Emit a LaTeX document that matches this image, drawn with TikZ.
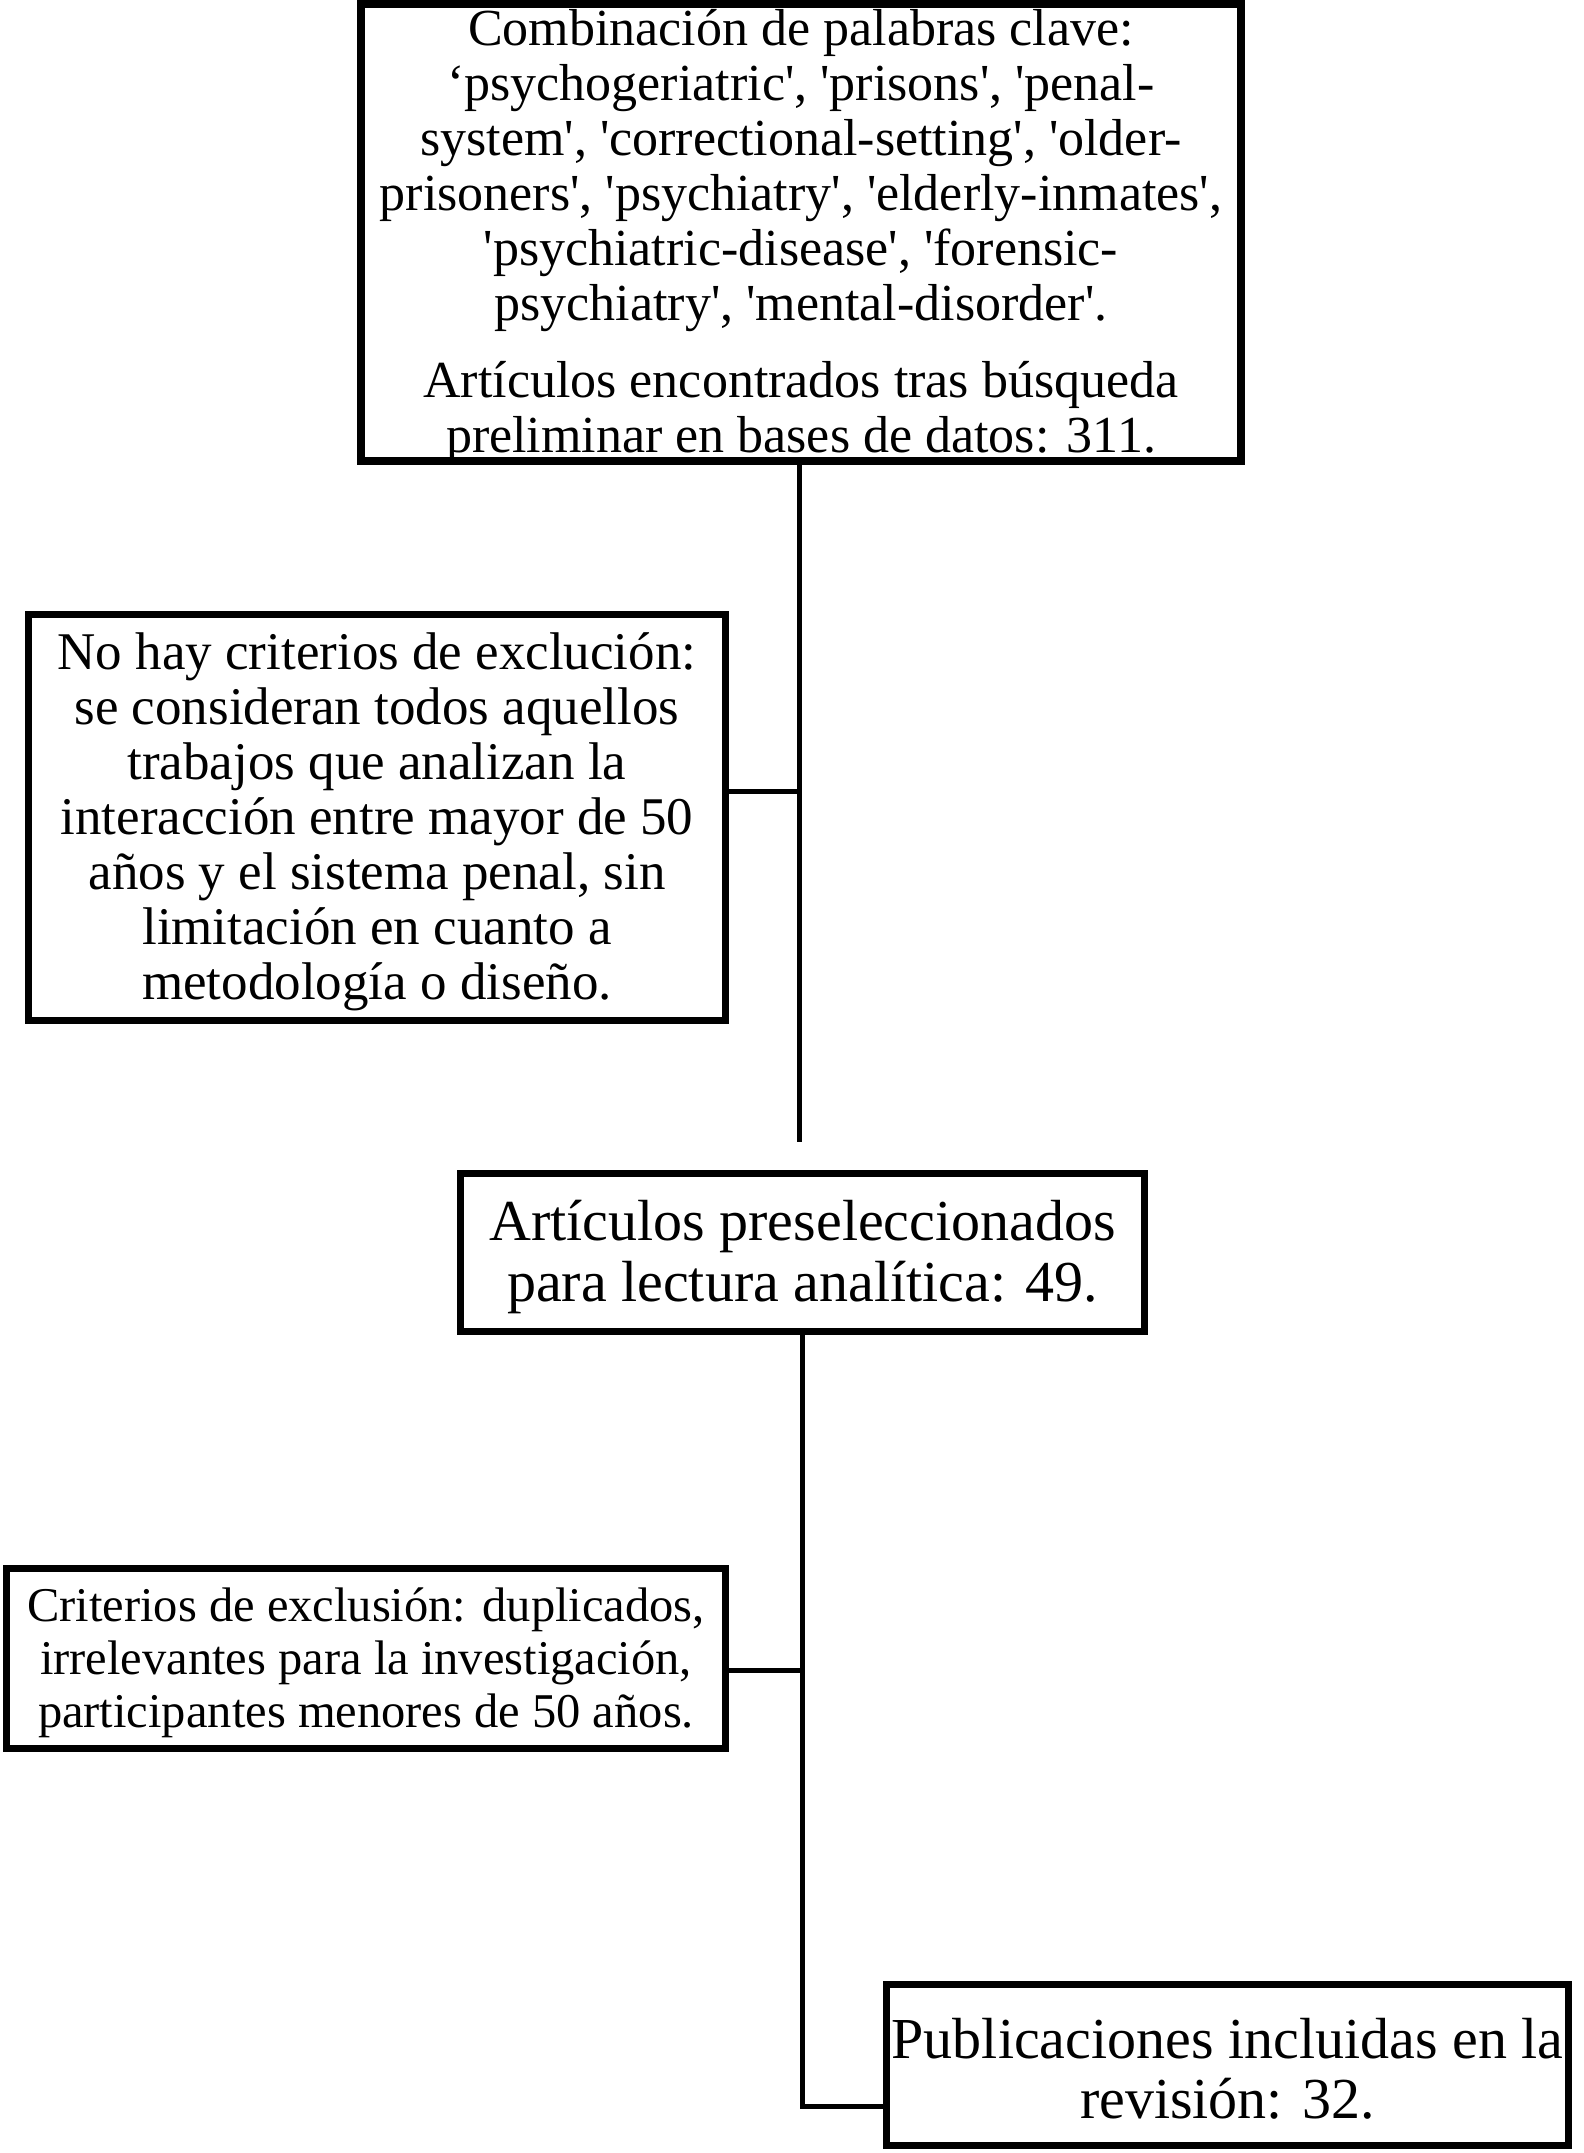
\documentclass[tikz,border=0pt]{standalone}
\usepackage{fontspec}
\setmainfont{Liberation Serif}
\newcommand{\sq}{\textquotesingle}
\begin{document}
\begin{tikzpicture}[x=1pt,y=-1pt,
  box/.style={draw=black, line width=7.5pt, inner sep=0pt, rectangle},
  txt/.style={align=center, inner sep=0pt, yshift=-4pt},
  link/.style={draw=black, line width=5pt}]
\useasboundingbox[fill=white] (0,0) rectangle (1583,2153);

% boxes
\node[box, minimum width=880pt, minimum height=457pt] (top) at (801,232.5) {};
\node[box, minimum width=697pt, minimum height=406pt] (l1) at (377,817.5) {};
\node[box, minimum width=684pt, minimum height=158pt] (mid) at (802.5,1252.5) {};
\node[box, minimum width=719pt, minimum height=180pt] (l2) at (366,1658.5) {};
\node[box, minimum width=682pt, minimum height=161pt] (bot) at (1227.5,2065) {};

% texts
\node[txt, font=\fontsize{52}{55}\selectfont] (toptext) at (top.center)
 {Combinación de palabras clave:\\
  ‘psychogeriatric\sq, \sq prisons\sq, \sq penal-\\
  system\sq, \sq correctional-setting\sq, \sq older-\\
  prisoners\sq, \sq psychiatry\sq, \sq elderly-inmates\sq,\\
  \sq psychiatric-disease\sq, \sq forensic-\\
  psychiatry\sq, \sq mental-disorder\sq.\\[22pt]
  Artículos encontrados tras búsqueda\\
  preliminar en bases de datos: 311.};

\node[txt, font=\fontsize{53}{55}\selectfont] (l1text) at (l1.center)
 {No hay criterios de exclución:\\
  se consideran todos aquellos\\
  trabajos que analizan la\\
  interacción entre mayor de 50\\
  años y el sistema penal, sin\\
  limitación en cuanto a\\
  metodología o diseño.};

\node[txt, font=\fontsize{58}{61}\selectfont] (midtext) at (mid.center)
 {Artículos preseleccionados\\
  para lectura analítica: 49.};

\node[txt, font=\fontsize{48.5}{53}\selectfont] (l2text) at (l2.center)
 {Criterios de exclusión: duplicados,\\
  irrelevantes para la investigación,\\
  participantes menores de 50 años.};

\node[txt, font=\fontsize{58}{60}\selectfont] (bottext) at (bot.center)
 {Publicaciones incluidas en la\\
  revisión: 32.};

% connectors
\coordinate (j1) at (799.5,791.5);
\coordinate (e1) at (799.5,1142);
\coordinate (j2) at (802.5,1670);
\coordinate (c3) at (802.5,2106.5);

\draw[link] (top.south -| j1) -- (e1);
\draw[link] (j1) -- (j1 -| l1.east);
\draw[link] (mid.south -| c3) -- (c3) -- (c3 -| bot.west);
\draw[link] (j2) -- (j2 -| l2.east);
\end{tikzpicture}
\end{document}
